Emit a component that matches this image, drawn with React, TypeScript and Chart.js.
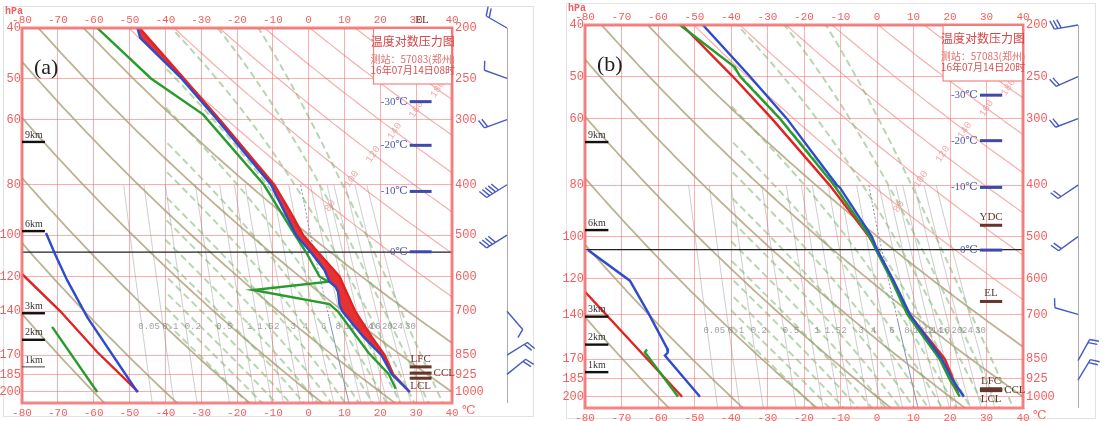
import React, { useEffect, useRef } from "react";
import { Chart, registerables } from "chart.js";
Chart.register(...registerables);

// ---------------- axis ticks ----------------
const pressureTicks = [200, 250, 300, 400, 500, 600, 700, 850, 925, 1000];
const upperPressureTicks = [40, 50, 60, 80, 100, 120, 140, 170, 185, 200];
const temperatureTicks = [-80, -70, -60, -50, -40, -30, -20, -10, 0, 10, 20, 30, 40];

// ---------------- background families ----------------
const dryThetaTan = [-60, -40, -20, 0, 20, 40, 60];
const dryThetaPink = [80, 100, 120, 140, 160, 180, 200, 220];
const pinkLabels = ["80", "100", "120", "140", "160", "180", "200", "220"];
const moistStart = [-20, -16, -12, -8, -4, 0, 4, 8, 12, 16, 20, 24, 28, 32, 36];
const mixingRatios = [0.05, 0.1, 0.2, 0.5, 1, 1.5, 2, 3, 4, 6, 8, 10, 12, 14, 16, 20, 24, 30];
const mixingLabels = ["0.05", "0.1", "0.2", "0.5", "1", "1.5", "2", "3", "4", "6", "8", "10", "12", "14", "16", "20", "24", "30"];

// ---------------- panel (a) 16-07-14 08h ----------------
const aTempP = [200, 209, 250, 300, 400, 500, 538, 583, 614, 628, 643, 680, 700, 784, 850, 925, 1000];
const aTempT = [-47.8, -47, -35.5, -25.5, -10.5, -3.5, 0.5, 4.4, 5.8, 7.5, 8.2, 8.6, 9.4, 15.3, 20.3, 23.2, 28.2];
const aParcelP = [200, 250, 300, 400, 450, 500, 538, 600, 700, 784, 850, 925, 1000];
const aParcelT = [-47.2, -34.8, -24.8, -9.6, -5.2, -1.5, 2.5, 8.6, 13, 17.6, 21.2, 23.6, 28.2];
const aDewP = [200, 250, 293, 400, 500, 538, 600, 614, 637, 678, 702, 841, 923, 986];
const aDewT = [-59, -44, -29.5, -12.5, -3.8, -0.8, 3, 5.5, -15.5, 5.8, 8.3, 16.7, 22.3, 24.3];
// upper overlay (left axis, 40-200)
const aUpTempP = [99, 109, 122, 143.6, 200];
const aUpTempT = [-73.3, -70.7, -67.4, -61.8, -47.8];
const aUpParcelP = [118.7, 140, 167.6, 200];
const aUpParcelT = [-80, -69.3, -59, -47.6];
const aUpDewP = [150, 200];
const aUpDewT = [-71.6, -59];
// levels
const aIsoP = [277, 336, 412, 538];
const aZeroP = 539;
const aKmP = [331, 491, 706, 794, 895];
const aLevelNames = ["LFC", "CCL", "LCL"];
const aLevelP = [895, 920, 941];
// winds
const aWindP = [200, 250, 300, 400, 500, 700, 850, 925];
const aWindDir = [300, 290, 250, 238, 238, 139, 58, 51];
const aWindBarbs = [2, 1, 2, 5, 4, 1, 2, 2];
const aTitle = ["温度对数压力图", "测站：57083(郑州)", "16年07月14日08时"];

// ---------------- panel (b) 16-07-14 20h ----------------
const bTempP = [200, 250, 300, 400, 405, 500, 529, 604, 700, 850, 925, 1000];
const bTempT = [-47.7, -34.8, -24.7, -11, -10.1, -1.4, 0, 4.5, 9, 17.8, 20.5, 23.8];
const bDewP = [200, 240, 250, 300, 400, 500, 529, 604, 700, 850, 925, 1000];
const bDewT = [-54, -39, -37.5, -26.6, -11.8, -2, -0.3, 4, 8.3, 17.2, 19.8, 22.7];
const bParcelP = [200, 250, 300, 400, 500, 529, 604, 700, 850, 925, 985];
const bParcelT = [-53.4, -39.5, -28.8, -13, -2.2, 0, 4.3, 8.8, 18.6, 20.8, 22.2];
const bUpTempP = [106, 121, 139, 162.3, 165.2, 167.3, 200];
const bUpTempT = [-79.2, -67.7, -62.7, -57.5, -57.3, -58.1, -48.5];
const bUpParcelP = [127, 200];
const bUpParcelT = [-80, -53.4];
const bUpDewP = [163, 165, 200];
const bUpDewT = [-63, -63.6, -54.5];
const bIsoP = [271, 330, 404, 530];
const bZeroP = 529;
const bKmP = [332, 486, 707, 798, 899];
const bLevelNames = ["YDC", "EL", "LFC", "CCL", "LCL"];
const bLevelP = [476, 662, 966, 970, 974];
const bWindP = [200, 250, 300, 400, 500, 700, 855, 931];
const bWindDir = [260, 246, 249, 236, 234, 286, 29, 31];
const bWindBarbs = [3, 2, 2, 2, 2, 1, 2, 2];
const bTitle = ["温度对数压力图", "测站：57083(郑州)", "16年07月14日20时"];

const isoLabels = ["-30℃", "-20℃", "-10℃", "0℃"];
const kmLabels = ["9km", "6km", "3km", "2km", "1km"];

// ---------------- styles ----------------
const BLUE = "rgb(45,75,205)";
const RED = "rgb(225,35,35)";
const GREEN = "rgb(40,155,45)";
const GRID = "rgba(242,110,110,0.55)";
const TICK = "rgb(240,95,95)";
const TAN = "rgba(165,152,112,0.75)";
const MOIST = "rgba(125,180,115,0.55)";
const PINK = "rgba(240,120,120,0.6)";
const MIX = "rgba(130,130,130,0.4)";
const BROWN = "rgb(100,55,45)";
const MARK = "rgb(60,75,170)";
const MONO = '"Liberation Mono", "DejaVu Sans Mono", monospace';
const SERIF = '"Liberation Serif", "DejaVu Serif", serif';
const CJK = '"Noto Sans CJK SC", sans-serif';

// sampling pressures for drawing background curves
const samples: number[] = [];
for (let i = 0; i <= 140; i++) samples.push(150 * Math.pow(1100 / 150, i / 140));

function dryT(thetaC: number, p: number) {
  return (thetaC + 273.15) * Math.pow(p / 1000, 0.2857) - 273.15;
}
function dryP(thetaC: number, tC: number) {
  return 1000 * Math.pow((tC + 273.15) / (thetaC + 273.15), 3.5);
}
function mixT(w: number, p: number) {
  const e = (w * p) / (622 + w);
  const l = Math.log(e / 6.112);
  const tw = (243.5 * l) / (17.67 - l);
  if (tw >= 0) return tw;
  return (272.62 * l) / (22.46 - l); // saturation over ice
}
function dTdp(T: number, p: number) {
  const es = 6.112 * Math.exp((17.67 * (T - 273.15)) / (T - 29.65));
  const rs = (0.622 * es) / (p - es);
  const Rd = 287.04, cp = 1005.7, Lv = 2.501e6;
  const num = (Rd * T + Lv * rs) / p;
  const den = cp + (Lv * Lv * rs * 0.622) / (Rd * T * T);
  return num / den;
}
function moistCurve(t0: number): number[] {
  const out: number[] = new Array(samples.length);
  const integrate = (T: number, from: number, to: number) => {
    const n = Math.max(1, Math.ceil(Math.abs(to - from) / 2));
    const h = (to - from) / n;
    let p = from;
    for (let i = 0; i < n; i++) {
      const k1 = dTdp(T, p);
      const k2 = dTdp(T + h * k1 * 0.5, p + h * 0.5);
      T += h * k2;
      p += h;
    }
    return T;
  };
  let T = t0 + 273.15;
  let p = 1000;
  const upIdx = samples.map((s, i) => i).filter((i) => samples[i] <= 1000).reverse();
  for (const i of upIdx) { T = integrate(T, p, samples[i]); p = samples[i]; out[i] = T - 273.15; }
  T = t0 + 273.15; p = 1000;
  for (let i = 0; i < samples.length; i++) {
    if (samples[i] > 1000) { T = integrate(T, p, samples[i]); p = samples[i]; out[i] = T - 273.15; }
  }
  return out;
}

type Panel = {
  W: number; H: number;
  area: { left: number; top: number; right: number; bottom: number };
  frame: [number, number, number, number];
  letter: string;
  tempP: number[]; tempT: number[];
  parcelP: number[]; parcelT: number[];
  dewP: number[]; dewT: number[];
  upTempP: number[]; upTempT: number[];
  upParcelP: number[]; upParcelT: number[];
  upDewP: number[]; upDewT: number[];
  isoP: number[]; zeroP: number;
  kmP: number[]; kmThin: boolean;
  levelNames: string[]; levelP: number[];
  windP: number[]; windDir: number[]; windBarbs: number[];
  title: string[];
  cape: boolean;
  elTop: boolean;
};

const panelA: Panel = {
  W: 548, H: 421,
  area: { left: 22, top: 28, right: 452, bottom: 403 },
  frame: [3, 6, 533, 416],
  letter: "(a)",
  tempP: aTempP, tempT: aTempT, parcelP: aParcelP, parcelT: aParcelT, dewP: aDewP, dewT: aDewT,
  upTempP: aUpTempP, upTempT: aUpTempT, upParcelP: aUpParcelP, upParcelT: aUpParcelT, upDewP: aUpDewP, upDewT: aUpDewT,
  isoP: aIsoP, zeroP: aZeroP, kmP: aKmP, kmThin: true,
  levelNames: aLevelNames, levelP: aLevelP,
  windP: aWindP, windDir: aWindDir, windBarbs: aWindBarbs,
  title: aTitle, cape: true, elTop: true,
};
const panelB: Panel = {
  W: 545, H: 421,
  area: { left: 25, top: 25, right: 463, bottom: 408 },
  frame: [6, 3, 535, 418],
  letter: "(b)",
  tempP: bTempP, tempT: bTempT, parcelP: bParcelP, parcelT: bParcelT, dewP: bDewP, dewT: bDewT,
  upTempP: bUpTempP, upTempT: bUpTempT, upParcelP: bUpParcelP, upParcelT: bUpParcelT, upDewP: bUpDewP, upDewT: bUpDewT,
  isoP: bIsoP, zeroP: bZeroP, kmP: bKmP, kmThin: false,
  levelNames: bLevelNames, levelP: bLevelP,
  windP: bWindP, windDir: bWindDir, windBarbs: bWindBarbs,
  title: bTitle, cape: false, elTop: false,
};

function xy(t: number[], p: number[]) {
  return t.map((v, i) => ({ x: v, y: p[i] }));
}

function makePlugin(P: Panel) {
  return {
    id: "skewdeco",
    beforeDraw(chart: any) {
      const ctx = chart.ctx;
      ctx.save();
      ctx.fillStyle = "#fff";
      ctx.fillRect(0, 0, chart.width, chart.height);
      ctx.strokeStyle = "#e2e2e2";
      ctx.lineWidth = 1;
      const [x0, y0, x1, y1] = P.frame;
      ctx.strokeRect(x0 + 0.5, y0 + 0.5, x1 - x0, y1 - y0);
      ctx.restore();
    },
    beforeDatasetsDraw(chart: any) {
      const ctx = chart.ctx;
      const xs = chart.scales.x;
      const ys = chart.scales.yR;
      const a = chart.chartArea;
      const line = (T: number[], p: number[], minT = -1e9) => {
        ctx.beginPath();
        let started = false;
        for (let i = 0; i < T.length; i++) {
          if (T[i] === undefined || isNaN(T[i]) || T[i] < minT) { started = false; continue; }
          const px = xs.getPixelForValue(T[i]);
          const py = ys.getPixelForValue(p[i]);
          if (!started) { ctx.moveTo(px, py); started = true; } else ctx.lineTo(px, py);
        }
        ctx.stroke();
      };
      ctx.save();
      ctx.beginPath();
      ctx.rect(a.left, a.top, a.right - a.left, a.bottom - a.top);
      ctx.clip();
      // mixing ratio lines
      ctx.strokeStyle = MIX;
      ctx.lineWidth = 1;
      const mixP = samples.filter((s) => s >= 400);
      for (const w of mixingRatios) {
        if (w === 8) continue;
        line(mixP.map((p) => mixT(w, p)), mixP);
      }
      // highlighted isohume
      ctx.strokeStyle = "rgba(110,125,160,0.85)";
      ctx.setLineDash([2, 2]);
      const hiA = mixP.filter((p) => p <= 720);
      line(hiA.map((p) => mixT(8, p)), hiA);
      ctx.setLineDash([]);
      const hiB = mixP.filter((p) => p >= 715);
      line(hiB.map((p) => mixT(8, p)), hiB);
      // dry adiabats
      ctx.lineWidth = 1.8;
      ctx.strokeStyle = TAN;
      for (const th of dryThetaTan) line(samples.map((p) => dryT(th, p)), samples);
      ctx.lineWidth = 1.2;
      ctx.strokeStyle = PINK;
      for (const th of dryThetaPink) line(samples.map((p) => dryT(th, p)), samples);
      // moist adiabats
      ctx.lineWidth = 2;
      ctx.strokeStyle = MOIST;
      ctx.setLineDash([7, 4]);
      for (const t0 of moistStart) line(moistCurve(t0), samples, -40);
      ctx.setLineDash([]);
      // pink line labels
      ctx.font = `10px ${MONO}`;
      ctx.fillStyle = "rgba(235,140,140,0.75)";
      ctx.textAlign = "center";
      ctx.textBaseline = "middle";
      dryThetaPink.forEach((th, i) => {
        const t = 24 + (th - 140) * 0.3;
        const p = dryP(th, t);
        if (p < 205 || p > 1000 || t > 38) return;
        const x = xs.getPixelForValue(t), y = ys.getPixelForValue(p);
        ctx.save();
        ctx.translate(x, y);
        ctx.rotate(-Math.PI / 3.2);
        ctx.fillText(pinkLabels[i], 0, 0);
        ctx.restore();
      });
      // mixing ratio labels
      ctx.fillStyle = "rgba(120,120,120,0.7)";
      ctx.font = `9px ${MONO}`;
      const ly = ys.getPixelForValue(750);
      mixingRatios.forEach((w, i) => {
        ctx.fillText(mixingLabels[i], xs.getPixelForValue(mixT(w, 750)) + 7, ly);
      });
      // zero-degree level
      ctx.strokeStyle = "#222";
      ctx.lineWidth = 1.2;
      const zy = ys.getPixelForValue(P.zeroP);
      ctx.beginPath();
      ctx.moveTo(a.left, zy);
      ctx.lineTo(a.right, zy);
      ctx.stroke();
      // CAPE area
      if (P.cape) {
        ctx.fillStyle = "rgba(230,40,40,0.95)";
        ctx.beginPath();
        P.parcelT.forEach((t, i) => {
          const px = xs.getPixelForValue(t), py = ys.getPixelForValue(P.parcelP[i]);
          if (i === 0) ctx.moveTo(px, py); else ctx.lineTo(px, py);
        });
        for (let i = P.tempT.length - 1; i >= 0; i--) {
          ctx.lineTo(xs.getPixelForValue(P.tempT[i]), ys.getPixelForValue(P.tempP[i]));
        }
        ctx.closePath();
        ctx.fill();
      }
      ctx.restore();
    },
    afterDatasetsDraw(chart: any) {
      const ctx = chart.ctx;
      const xs = chart.scales.x;
      const ys = chart.scales.yR;
      const a = chart.chartArea;
      ctx.save();
      // plot frame
      ctx.strokeStyle = "rgba(244,110,110,0.85)";
      ctx.lineWidth = 3;
      ctx.strokeRect(a.left, a.top, a.right - a.left, a.bottom - a.top);
      // title box
      const bx0 = xs.getPixelForValue(18.1);
      ctx.fillStyle = "#fff";
      ctx.fillRect(bx0, a.top + 1, a.right - bx0 - 1, 55);
      ctx.strokeStyle = "rgba(244,120,120,0.9)";
      ctx.lineWidth = 1.2;
      ctx.strokeRect(bx0, a.top, a.right - bx0, 56);
      const cx = (bx0 + a.right) / 2;
      ctx.textAlign = "center";
      ctx.textBaseline = "middle";
      ctx.fillStyle = "rgb(215,70,70)";
      ctx.font = `12px ${CJK}`;
      ctx.fillText(P.title[0], cx, a.top + 13);
      ctx.fillStyle = "rgb(225,110,110)";
      ctx.font = `10px ${CJK}`;
      ctx.fillText(P.title[1], cx, a.top + 31);
      ctx.fillStyle = "rgb(215,80,80)";
      ctx.fillText(P.title[2], cx, a.top + 42);
      // isotherm height markers
      const mx0 = xs.getPixelForValue(28.2), mx1 = xs.getPixelForValue(34.3);
      P.isoP.forEach((p, i) => {
        const y = ys.getPixelForValue(p);
        ctx.fillStyle = MARK;
        ctx.fillRect(mx0, y - 1.5, mx1 - mx0, 3);
        ctx.font = `11px ${SERIF}`;
        ctx.textAlign = "right";
        ctx.fillStyle = "rgb(80,90,170)";
        ctx.fillText(isoLabels[i], mx0 - 2, y);
      });
      // special levels (brown)
      const names = P.levelNames;
      ctx.font = `11px ${SERIF}`;
      names.forEach((n, i) => {
        const y = ys.getPixelForValue(P.levelP[i]);
        ctx.fillStyle = BROWN;
        ctx.fillRect(mx0, y - 1.5, mx1 - mx0, 3);
        ctx.textAlign = "center";
        if (n === "CCL") {
          ctx.textAlign = "left";
          ctx.fillText(n, mx1 + 2, y);
        } else if (n === "LCL") {
          ctx.fillText(n, (mx0 + mx1) / 2, y + 8);
        } else {
          ctx.fillText(n, (mx0 + mx1) / 2, y - 8);
        }
      });
      if (P.elTop) {
        ctx.fillStyle = BROWN;
        ctx.textAlign = "center";
        ctx.fillText("EL", xs.getPixelForValue(31.6), a.top - 8);
      }
      // km markers
      P.kmP.forEach((p, i) => {
        const y = ys.getPixelForValue(p);
        const thin = P.kmThin && i === P.kmP.length - 1;
        ctx.fillStyle = thin ? "#444" : "#111";
        ctx.fillRect(a.left, y - (thin ? 0.5 : 1.2), xs.getPixelForValue(-73.6) - a.left, thin ? 1 : 2.4);
        ctx.font = `10px ${SERIF}`;
        ctx.textAlign = "left";
        ctx.fillStyle = "#333";
        ctx.fillText(kmLabels[i], a.left + 3, y - 7);
      });
      // letter
      ctx.font = `22px ${SERIF}`;
      ctx.fillStyle = "#222";
      ctx.textAlign = "left";
      ctx.fillText(P.letter, a.left + 12, a.top + 40);
      // hPa & degree
      ctx.font = `bold 10px ${MONO}`;
      ctx.fillStyle = TICK;
      ctx.fillText("hPa", a.left - 17, a.top - 17);
      ctx.font = `12px ${SERIF}`;
      ctx.fillText("℃", a.right + 10, a.bottom + 8);
      // wind barbs
      const bxBase = a.right + 55;
      ctx.strokeStyle = "rgba(150,150,150,0.8)";
      ctx.lineWidth = 1;
      ctx.beginPath();
      ctx.moveTo(bxBase + 0.5, a.top);
      ctx.lineTo(bxBase + 0.5, a.bottom);
      ctx.stroke();
      ctx.strokeStyle = "rgb(70,90,195)";
      ctx.lineWidth = 1.4;
      P.windP.forEach((p, i) => {
        const y0 = ys.getPixelForValue(p);
        const ang = (P.windDir[i] * Math.PI) / 180;
        const ux = Math.sin(ang), uy = -Math.cos(ang);
        const L = 24;
        const tx = bxBase + ux * L, ty = y0 + uy * L;
        ctx.beginPath();
        ctx.moveTo(bxBase, y0);
        ctx.lineTo(tx, ty);
        const px = -uy, py = ux;
        for (let k = 0; k < P.windBarbs[i]; k++) {
          const sx = tx - ux * k * 3.5, sy = ty - uy * k * 3.5;
          ctx.moveTo(sx, sy);
          ctx.lineTo(sx + px * 9 + ux * 3, sy + py * 9 + uy * 3);
        }
        ctx.stroke();
      });
      ctx.restore();
    },
  };
}

function buildConfig(P: Panel): any {
  const lineDs = (t: number[], p: number[], color: string, axis: string) => ({
    data: xy(t, p),
    yAxisID: axis,
    xAxisID: "x",
    showLine: true,
    borderColor: color,
    backgroundColor: color,
    borderWidth: 2.4,
    pointRadius: 0,
    tension: 0,
    fill: false,
  });
  const tickFont = { family: MONO, size: 11 };
  return {
    type: "scatter",
    data: {
      datasets: [
        lineDs(P.tempT, P.tempP, BLUE, "yR"),
        lineDs(P.dewT, P.dewP, GREEN, "yR"),
        lineDs(P.parcelT, P.parcelP, RED, "yR"),
        lineDs(P.upTempT, P.upTempP, BLUE, "yL"),
        lineDs(P.upDewT, P.upDewP, GREEN, "yL"),
        lineDs(P.upParcelT, P.upParcelP, RED, "yL"),
      ],
    },
    options: {
      animation: false,
      responsive: false,
      maintainAspectRatio: false,
      events: [],
      layout: { padding: 0 },
      plugins: { legend: { display: false }, tooltip: { enabled: false } },
      scales: {
        x: {
          type: "linear", position: "bottom", min: -80, max: 40,
          afterBuildTicks: (s: any) => { s.ticks = temperatureTicks.map((v) => ({ value: v })); },
          afterFit: (s: any) => { s.height = P.H - P.area.bottom; },
          grid: { color: GRID, lineWidth: 1, drawTicks: false },
          border: { display: false },
          ticks: { color: TICK, font: tickFont, padding: 3, maxRotation: 0, autoSkip: false },
        },
        xTop: {
          type: "linear", position: "top", min: -80, max: 40,
          afterBuildTicks: (s: any) => { s.ticks = temperatureTicks.map((v) => ({ value: v })); },
          afterFit: (s: any) => { s.height = P.area.top; },
          grid: { display: false, drawTicks: false },
          border: { display: false },
          ticks: { color: TICK, font: tickFont, padding: 1, maxRotation: 0, autoSkip: false },
        },
        yR: {
          type: "logarithmic", position: "right", reverse: true, min: 200, max: 1050,
          afterBuildTicks: (s: any) => { s.ticks = pressureTicks.map((v) => ({ value: v })); },
          afterFit: (s: any) => { s.width = P.W - P.area.right; },
          grid: { color: GRID, lineWidth: 1, drawTicks: false },
          border: { display: false },
          ticks: { color: TICK, font: { family: MONO, size: 12 }, padding: 3, autoSkip: false, callback: (v: any) => String(v) },
        },
        yL: {
          type: "logarithmic", position: "left", reverse: true, min: 40, max: 210,
          afterBuildTicks: (s: any) => { s.ticks = upperPressureTicks.map((v) => ({ value: v })); },
          afterFit: (s: any) => { s.width = P.area.left; },
          grid: { display: false, drawTicks: false },
          border: { display: false },
          ticks: { color: TICK, font: { family: MONO, size: 12 }, padding: 1, autoSkip: false, callback: (v: any) => String(v) },
        },
      },
    },
    plugins: [makePlugin(P)],
  };
}

function SkewPanel({ P, left }: { P: Panel; left: number }) {
  const ref = useRef<HTMLCanvasElement | null>(null);
  useEffect(() => {
    if (!ref.current) return;
    const chart = new Chart(ref.current, buildConfig(P));
    return () => chart.destroy();
  }, [P]);
  return (
    <canvas
      ref={ref}
      width={P.W}
      height={P.H}
      style={{ position: "absolute", left, top: 0, width: P.W, height: P.H }}
    />
  );
}

export default function App() {
  return (
    <div style={{ position: "fixed", left: 0, top: 0, width: 1105, height: 421, background: "#fff", overflow: "hidden" }}>
      <SkewPanel P={panelA} left={0} />
      <SkewPanel P={panelB} left={560} />
    </div>
  );
}
